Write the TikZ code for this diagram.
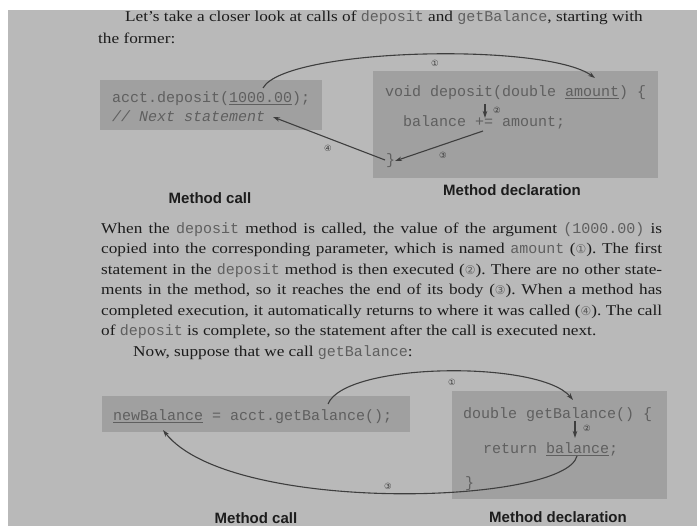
\documentclass[tikz,border=0pt]{standalone}
\usepackage{fontspec}
\usetikzlibrary{arrows.meta}
\setmainfont[FakeStretch=1.15]{Liberation Serif}
\newfontfamily\codefont{Liberation Mono}
\newfontfamily\labelfont{Liberation Sans}
\newfontfamily\symfont{DejaVu Sans}
\frenchspacing

\definecolor{paper}{RGB}{185,185,185}
\definecolor{boxgray}{RGB}{160,160,160}
\definecolor{ink}{RGB}{28,28,28}
\definecolor{codeink}{RGB}{95,95,95}
\definecolor{lineink}{RGB}{62,62,62}

% inline code and circled step numbers inside the running text
\newcommand\mcode[1]{{\codefont\color{codeink}#1}}
\newcommand\stepref[1]{{\symfont\fontsize{12}{12}\selectfont\color{codeink}#1}}
\newcommand\fullline[1]{\makebox[561pt][s]{#1}}

\tikzset{
  codebox/.style={fill=boxgray, draw=none},
  codeline/.style={anchor=base west, inner sep=0pt,
    font=\codefont\fontsize{15}{15}\selectfont, text=codeink},
  bodyline/.style={anchor=base west, inner sep=0pt,
    font=\fontsize{15}{18}\selectfont, text=ink},
  caption/.style={inner sep=0pt, text=ink,
    font=\labelfont\bfseries\fontsize{15}{15}\selectfont},
  stepnum/.style={inner sep=0pt, text=lineink,
    font=\symfont\fontsize{8.5}{8.5}\selectfont},
  flow/.style={draw=lineink, line width=1.1pt,
    -{Stealth[length=7pt,width=4.5pt]}},
}

\begin{document}
\begin{tikzpicture}[x=1pt,y=-1pt]
\useasboundingbox (0,0) rectangle (697,526);
\fill[white] (0,0) rectangle (697,526);
\fill[paper] (8,10) rectangle (697,526);

% ---- opening lines
\node[bodyline] (intro) at (125,22)
  {Let's take a closer look at calls of \mcode{deposit} and \mcode{getBalance}, starting with};
\node[bodyline] (former) at (98,44) {the former:};

% ---- first example: deposit
\fill[codebox] (100,80) rectangle (322,130);
\node[codeline] (call1) at (112,103) {acct.deposit(\underline{1000.00});};
\node[codeline] (next1) at (112,122) {\itshape // Next statement};
\fill[codebox] (373,71) rectangle (658,178);
\node[codeline] (decl1) at (385,97) {void deposit(double \underline{amount}) \{};
\node[codeline] (body1) at (403,127) {balance += amount;};
\node[codeline] (end1) at (386,165) {\}};

\coordinate (argA) at (263,88);
\coordinate (parA) at (595,78);
\coordinate (headA) at (485,104);
\coordinate (stmtA) at (485,118);
\coordinate (bodyA) at (483,131);
\coordinate (closeA) at (395,161);
\coordinate (closeB) at (385,160);
\coordinate (nextA) at (273,117);

\draw[flow] (argA) .. controls (285,48) and (545,42) .. (parA);
\draw[flow] (headA) -- (stmtA);
\draw[flow] (bodyA) -- (closeA);
\draw[flow] (closeB) -- (nextA);

\node[stepnum] (s1a) at (435,63) {①};
\node[stepnum] (s2a) at (497,110) {②};
\node[stepnum] (s3a) at (443,155) {③};
\node[stepnum] (s4a) at (328,148) {④};

\node[caption] (capcall1) at (210,198) {Method call};
\node[caption] (capdecl1) at (512,190) {Method declaration};

% ---- explanation
\node[bodyline] (p1) at (101,233.5) {\fullline{When the \mcode{deposit} method is called, the value of the argument \mcode{(1000.00)} is}};
\node[bodyline] (p2) at (101,254) {\fullline{copied into the corresponding parameter, which is named \mcode{amount} (\stepref{①}). The first}};
\node[bodyline] (p3) at (101,274.5) {\fullline{statement in the \mcode{deposit} method is then executed (\stepref{②}). There are no other state-}};
\node[bodyline] (p4) at (101,295) {\fullline{ments in the method, so it reaches the end of its body (\stepref{③}). When a method has}};
\node[bodyline] (p5) at (101,315.5) {\fullline{completed execution, it automatically returns to where it was called (\stepref{④}). The call}};
\node[bodyline] (p6) at (101,336) {of \mcode{deposit} is complete, so the statement after the call is executed next.};
\node[bodyline] (p7) at (133,356.5) {Now, suppose that we call \mcode{getBalance}:};

% ---- second example: getBalance
\fill[codebox] (102,396) rectangle (410,432);
\node[codeline] (call2) at (113,421) {\underline{newBalance} = acct.getBalance();};
\fill[codebox] (452,391) rectangle (667,499);
\node[codeline] (decl2) at (463,419) {double getBalance() \{};
\node[codeline] (body2) at (483,454) {return \underline{balance};};
\node[codeline] (end2) at (465,488) {\}};

\coordinate (callB) at (328,404);
\coordinate (headB) at (573,400);
\coordinate (topB) at (575,421);
\coordinate (retB) at (575,438);
\coordinate (valB) at (577,456);
\coordinate (destB) at (163,430);

\draw[flow] (callB) .. controls (345,362) and (540,360) .. (headB);
\draw[flow] (topB) -- (retB);
\draw[flow] (valB) .. controls (565,505) and (230,515) .. (destB);

\node[stepnum] (s1b) at (452,382) {①};
\node[stepnum] (s2b) at (587,428) {②};
\node[stepnum] (s3b) at (388,486) {③};

\node[caption] (capcall2) at (256,518) {Method call};
\node[caption] (capdecl2) at (558,517) {Method declaration};
\end{tikzpicture}
\end{document}
